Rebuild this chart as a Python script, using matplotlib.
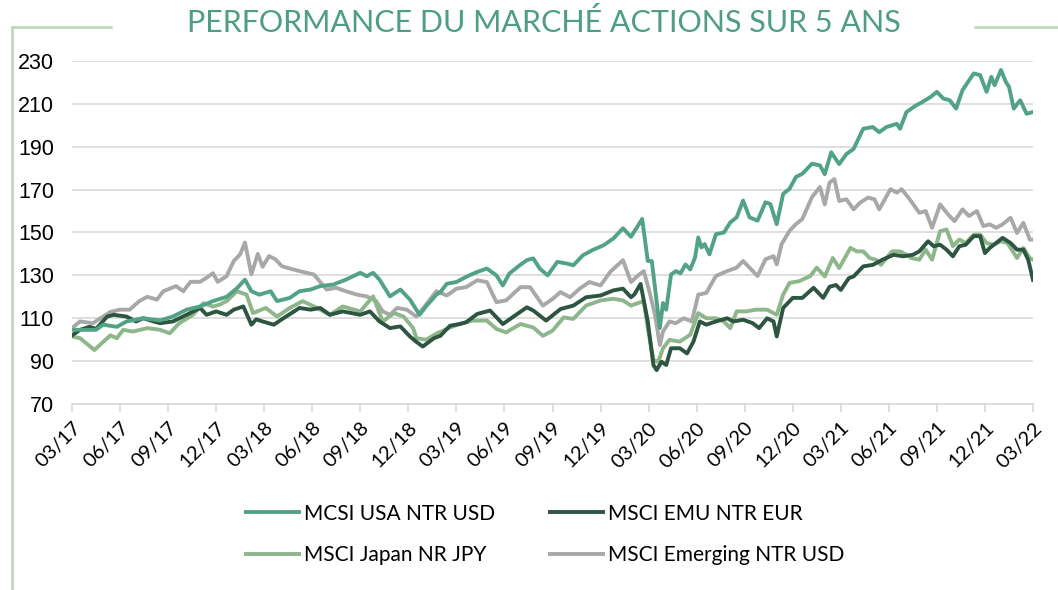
import matplotlib.pyplot as plt
from matplotlib.lines import Line2D

# x = months since 03/2017 (weekly chart)
quarters = ["03/17", "06/17", "09/17", "12/17", "03/18", "06/18", "09/18", "12/18",
            "03/19", "06/19", "09/19", "12/19", "03/20", "06/20", "09/20", "12/20",
            "03/21", "06/21", "09/21", "12/21", "03/22"]

usa_t = [0.0, 0.9, 1.5, 1.95, 2.8, 3.4, 4.45, 5.5, 6.3, 7.15, 8.0, 8.8, 9.65, 10.3, 10.8, 11.2,
         11.7, 12.4, 12.8, 13.6, 14.2, 14.9, 15.5, 16.3, 17.1, 18.0, 18.4, 18.8, 19.2, 19.85,
         20.5, 21.1, 21.7, 22.1, 22.75, 23.0, 23.4, 24.0, 24.4, 24.8, 25.3, 25.9, 26.5, 26.9,
         27.3, 27.95, 28.4, 28.8, 29.2, 29.7, 30.3, 30.9, 31.3, 31.9, 32.5, 33.2, 33.8, 34.4,
         34.9, 35.6, 35.95, 36.2, 36.4, 36.7, 36.9, 37.1, 37.4, 37.7, 38.0, 38.3, 38.6, 38.9,
         39.1, 39.3, 39.5, 39.8, 40.2, 40.7, 41.1, 41.5, 41.9, 42.3, 42.8, 43.3, 43.6, 44.0,
         44.4, 44.8, 45.2, 45.6, 46.2, 46.7, 47.0, 47.4, 47.9, 48.35, 48.8, 49.4, 50.0, 50.4,
         50.85, 51.5, 51.7, 52.1, 52.7, 53.1, 53.6, 54.0, 54.4, 54.8, 55.2, 55.6, 56.3, 56.7,
         57.1, 57.4, 57.6, 58.0, 58.3, 58.5, 58.8, 59.2, 59.6, 60.0]
usa_v = [104.6, 104.6, 104.6, 107, 106, 108.5, 110, 109, 110.8, 114, 115.5, 118, 120, 124, 128, 122.6,
         121, 122.6, 118, 119.5, 122.6, 123.4, 125, 125.7, 128, 131.2, 129.6, 131.2, 128, 120.2,
         123.4, 118.7, 111.6, 115.5, 121, 122.2, 126.1, 126.9, 128.5, 130, 131.6, 133.2, 130, 125.3,
         130.8, 134.7, 137.1, 137.9, 133.2, 130, 136.3, 135.5, 134.7, 139.4, 141.8, 144.1, 147.2, 152,
         148, 156.3, 136.7, 136.7, 124.2, 105.4, 117.1, 114, 130.4, 132, 131, 135.1, 132.8, 138.3,
         147.7, 143, 144.6, 139.8, 149.2, 150, 154.7, 157.1, 164.9, 157.1, 155.5, 164.1, 163.3, 153.9,
         168, 170.4, 175.9, 177.4, 182.1, 181.3, 177.2, 187.4, 181.9, 186.6, 189, 198.4, 199.2, 196.8,
         199.2, 200.7, 198.4, 206.2, 209.3, 210.9, 213.2, 215.6, 212.5, 211.7, 207.8, 216.4, 224.2, 223.4,
         215.6, 222.6, 218.7, 225.8, 220.3, 218, 207.8, 211.7, 205.4, 206.2]

emu_t = [0.0, 0.5, 1.1, 1.5, 2.2, 2.6, 3.4, 4.0, 4.45, 5.1, 5.5, 6.3, 7.15, 8.0, 8.4, 9.0, 9.65,
         10.1, 10.7, 11.2, 11.5, 11.9, 12.6, 13.2, 14.2, 14.9, 15.5, 16.1, 16.9, 18.0, 18.6, 19.2,
         19.85, 20.5, 21.1, 21.5, 21.9, 22.6, 23.0, 23.6, 24.2, 24.6, 25.3, 26.1, 26.9, 27.8, 28.4,
         28.8, 29.6, 30.5, 31.3, 32.1, 33.0, 33.8, 34.4, 34.9, 35.1, 35.5, 35.95, 36.3, 36.5, 36.8,
         37.1, 37.4, 37.95, 38.4, 38.8, 39.2, 39.6, 40.2, 40.9, 41.3, 41.9, 42.5, 42.9, 43.4, 43.8,
         44.0, 44.4, 45.0, 45.6, 46.3, 46.9, 47.3, 47.7, 48.0, 48.5, 48.8, 49.4, 50.0, 50.6, 51.3,
         51.9, 52.5, 52.9, 53.45, 53.8, 54.2, 54.6, 55.0, 55.4, 55.8, 56.3, 56.7, 57.0, 57.3, 57.7,
         58.1, 58.6, 59.0, 59.4, 59.7, 60.0]
emu_v = [102, 104.6, 106, 105, 110.8, 111.6, 110.8, 108.5, 110, 108.5, 107.7, 108.5, 111.6, 114.8, 111.6, 113.2, 111.6,
         114, 115.5, 107, 109.5, 108.5, 107, 110, 114.8, 114, 114.8, 111.6, 113.2, 111.6, 113.2, 108.5,
         105.4, 106.2, 101.5, 99, 96.8, 100.7, 101.8, 106.5, 107.3, 108.1, 112, 113.6, 107.3, 112, 115.1,
         113.6, 108.9, 114.3, 115.9, 119.8, 120.6, 123, 123.8, 119.8, 121, 126, 108.5, 88.2, 85.8, 89.7,
         88.2, 96, 96, 93.6, 99.1, 108.5, 107, 108.5, 110, 108.5, 109.3, 107.7, 105.4, 110, 108.5,
         101.5, 114.8, 119.5, 119.5, 124.2, 119.5, 124.7, 125.5, 123.2, 128.7, 129.5, 134.2, 134.9, 137.3, 139.6,
         138.9, 139.6, 141.2, 145.9, 143.6, 144.3, 142, 138.9, 143.6, 144.3, 148.3, 148.3, 140.4, 142.8, 145.1,
         147.5, 145.1, 142, 142, 137.3, 127.9]

jpn_t = [0.0, 0.5, 1.4, 1.95, 2.4, 2.8, 3.2, 3.8, 4.7, 5.5, 6.1, 6.7, 7.55, 8.2, 8.8, 9.2, 9.65,
         10.3, 10.9, 11.3, 12.1, 12.8, 13.6, 14.4, 15.3, 16.1, 16.9, 18.0, 18.8, 19.4, 20.1, 20.7,
         21.3, 21.5, 22.1, 22.8, 23.6, 24.2, 25.0, 25.9, 26.5, 27.1, 28.0, 28.8, 29.4, 30.0, 30.7,
         31.3, 32.1, 33.0, 33.8, 34.4, 34.9, 35.3, 35.7, 35.95, 36.3, 36.6, 36.9, 37.3, 37.95, 38.6,
         39.1, 39.6, 40.2, 40.7, 41.1, 41.5, 42.1, 42.7, 43.4, 44.0, 44.4, 44.8, 45.4, 46.1, 46.5,
         47.0, 47.5, 47.9, 48.6, 49.0, 49.4, 49.8, 50.2, 50.5, 51.2, 51.7, 52.1, 52.4, 52.9, 53.3,
         53.7, 54.2, 54.6, 55.0, 55.4, 55.8, 56.3, 56.7, 57.1, 57.5, 58.0, 58.4, 59.0, 59.4, 59.8, 60.0]
jpn_v = [101.5, 100.7, 95.2, 99, 102, 100.7, 104.6, 103.8, 105.4, 104.6, 103, 107.7, 111.6, 117, 115.5, 116.3, 118,
         122.6, 121, 112.4, 114.8, 110.8, 114.8, 118, 114.8, 111.6, 115.5, 113.2, 120.2, 108.5, 112.4, 110.8,
         105.4, 100.7, 100, 103, 105.7, 107.3, 108.9, 108.9, 105, 103.4, 107.3, 105.7, 101.8, 104.2, 110.4,
         109.7, 115.9, 118.3, 119.1, 118.3, 115.9, 117, 117.9, 105.4, 90.5, 89.7, 96, 99.9, 99.1, 102.3,
         112.4, 110, 110, 108.5, 105.4, 113.2, 113.2, 114, 114, 111.6, 121, 126.5, 127.3, 129.7, 133.6,
         129.5, 138.1, 133.4, 142.8, 141.2, 141.2, 138.1, 137.3, 134.9, 141.2, 141.2, 139.6, 138.1, 137.3, 142,
         137.3, 150.6, 151.4, 143.6, 146.7, 145.1, 149, 149, 145.1, 144.3, 145.9, 145.1, 138.1, 142.8, 138.1, 137.3]

emg_t = [0.0, 0.5, 1.3, 1.95, 2.4, 3.0, 3.6, 4.2, 4.7, 5.3, 5.7, 6.5, 6.95, 7.4, 8.0, 8.4, 8.8,
         9.1, 9.65, 10.1, 10.5, 10.8, 11.2, 11.6, 11.9, 12.3, 12.7, 13.1, 13.4, 14.2, 15.1, 15.9,
         16.5, 17.1, 17.8, 18.4, 19.0, 19.4, 19.85, 20.3, 20.9, 21.5, 22.1, 22.75, 23.4, 24.0, 24.6,
         25.3, 25.9, 26.5, 27.1, 28.0, 28.6, 29.4, 30.0, 30.5, 31.1, 31.7, 32.3, 33.0, 33.6, 34.4,
         34.9, 35.3, 35.7, 36.1, 36.4, 36.7, 36.9, 37.3, 37.7, 38.2, 38.7, 39.1, 39.6, 40.2, 40.9,
         41.5, 41.9, 42.3, 42.8, 43.3, 43.8, 44.0, 44.3, 44.8, 45.2, 45.6, 46.2, 46.7, 47.0, 47.3,
         47.6, 47.9, 48.35, 48.8, 49.2, 49.7, 50.1, 50.4, 51.1, 51.5, 51.8, 52.3, 52.9, 53.3, 53.7,
         54.2, 54.7, 55.1, 55.6, 56.0, 56.5, 56.9, 57.3, 57.7, 58.1, 58.6, 59.0, 59.4, 59.8, 60.0]
emg_v = [105.4, 108.5, 107.7, 110.8, 113, 114, 114, 118, 120, 118.7, 122.6, 125, 122.6, 127, 127, 128.9, 131,
         127, 129.6, 136.7, 139.8, 145.3, 130.5, 140, 134, 139, 137.5, 134.3, 133.6, 132, 130.4, 123.4,
         124.2, 122.6, 121, 120.2, 117.9, 113.2, 111.6, 114.8, 114, 110.8, 116.3, 122.6, 120.6, 123.8, 124.5,
         127.7, 126.9, 117.5, 118.3, 124.5, 124.5, 115.9, 119, 122.2, 119.8, 123.8, 126.9, 125.3, 131.6, 137.1,
         126.9, 129.7, 132, 121, 111.6, 97.5, 103.8, 108.5, 107.7, 110, 108.5, 121, 121.8, 129.7, 132,
         133.6, 136.7, 133.6, 129.7, 137.5, 139, 135.1, 144.5, 150.8, 153.9, 156.3, 166.5, 171.2, 163.1, 173.3,
         174.9, 164.7, 165.5, 160.8, 163.9, 166.3, 165.5, 160.8, 170.2, 168.6, 170.2, 165.5, 159.2, 160, 152.2,
         163.1, 158.4, 155.3, 160.8, 157.7, 160, 153, 153.8, 152.2, 153.8, 156.9, 149.8, 154.5, 146.7, 146.7]

fig = plt.figure(figsize=(10.58, 5.9), dpi=100)
ax = fig.add_axes([72 / 1058, 1 - 404 / 590, 961 / 1058, 343 / 590])

l_usa, = ax.plot(usa_t, usa_v, color="#52a385", linewidth=2.8, label="MCSI USA NTR USD", zorder=5)
l_emu, = ax.plot(emu_t, emu_v, color="#2d5541", linewidth=2.8, label="MSCI EMU NTR EUR", zorder=4)
l_jpn, = ax.plot(jpn_t, jpn_v, color="#8db68a", linewidth=2.8, label="MSCI Japan NR JPY", zorder=3)
l_emg, = ax.plot(emg_t, emg_v, color="#a8a8a8", linewidth=2.8, label="MSCI Emerging NTR USD", zorder=2)

ax.set_xlim(0, 60)
ax.set_ylim(70, 230)
ax.set_yticks(range(70, 231, 20))
ax.set_xticks(range(0, 61, 3))
ax.set_xticklabels(quarters, rotation=45, ha="right", rotation_mode="anchor",
                   family="Lato", fontsize=14.5)
for lab in ax.get_yticklabels():
    lab.set_family("Liberation Sans")
    lab.set_fontsize(15.5)

ax.grid(axis="y", color="#d9d9d9", linewidth=1.2)
ax.set_axisbelow(True)
for side in ["top", "right", "left"]:
    ax.spines[side].set_visible(False)
ax.spines["bottom"].set_color("#d9d9d9")
ax.spines["bottom"].set_linewidth(1.2)
ax.tick_params(axis="y", length=0, pad=13, colors="black")
ax.tick_params(axis="x", length=6, width=1.2, color="#d9d9d9", pad=5)

fig.text(0.514, 1 - 22 / 590, "PERFORMANCE DU MARCHÉ ACTIONS SUR 5 ANS",
         ha="center", va="center", family="Lato", fontsize=22, color="#4e9e80")

# legend filled column by column, so order gives rows USA|EMU, Japan|Emerging
handles = [l_usa, l_jpn, l_emu, l_emg]
ax.legend(handles, [h.get_label() for h in handles], loc="center",
          bbox_to_anchor=(545 / 1058, 1 - 534.5 / 590),
          bbox_transform=fig.transFigure, ncol=2, frameon=False,
          prop={"family": "Lato", "size": 15}, handlelength=2.55,
          handletextpad=0.24, columnspacing=2.65, labelspacing=1.05, borderpad=0)

# decorative frame
frame_col = "#b8d6b6"
fig.add_artist(Line2D([12 / 1058, 12 / 1058], [0, 1 - 27 / 590], color=frame_col, linewidth=1.8))
fig.add_artist(Line2D([12 / 1058, 111 / 1058], [1 - 27 / 590, 1 - 27 / 590], color=frame_col, linewidth=1.8))
fig.add_artist(Line2D([975 / 1058, 1], [1 - 27 / 590, 1 - 27 / 590], color=frame_col, linewidth=1.8))

fig.savefig("out.png", dpi=100)
